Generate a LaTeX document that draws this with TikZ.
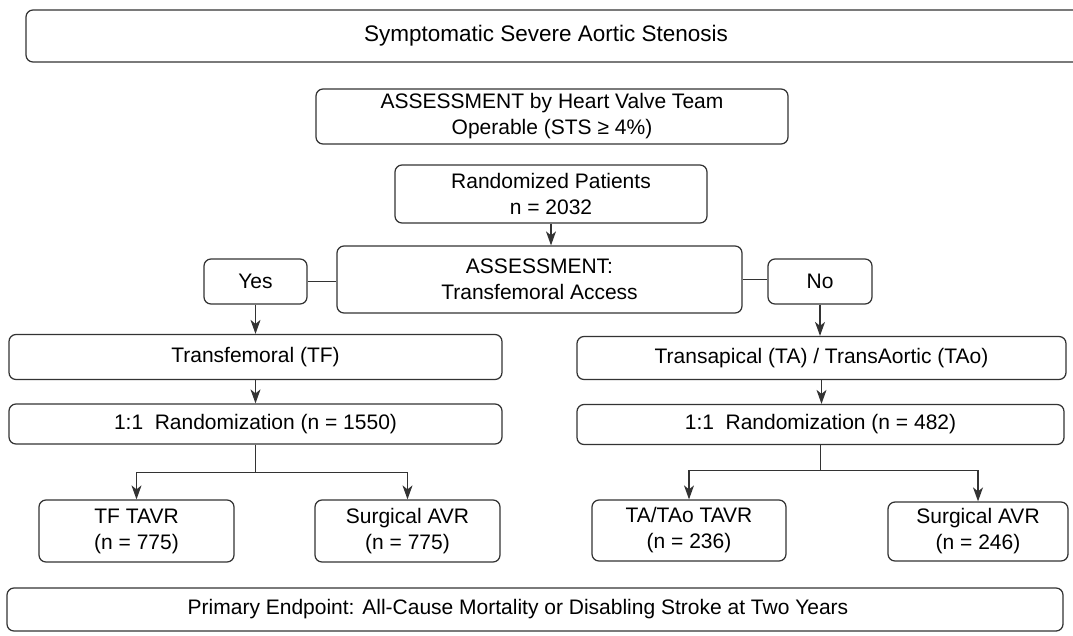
\documentclass[tikz,border=0pt]{standalone}
\usepackage{fontspec}
\setmainfont{Liberation Sans}
\usetikzlibrary{arrows.meta,calc}
\definecolor{linegray}{HTML}{333333}
\begin{document}
\begin{tikzpicture}[x=1pt,y=1pt,
  box/.style={draw=linegray, line width=1.25pt, rounded corners=7pt, inner sep=0pt,
              align=center, text=black, font=\fontsize{21}{26}\selectfont},
  caption/.style={inner sep=0pt, align=center, text=black, font=\fontsize{21}{26}\selectfont},
  link/.style={draw=linegray, line width=1.25pt},
  arr/.style={link, -{Stealth[length=14pt,width=10pt,inset=4pt]}}]
\useasboundingbox (0,0) rectangle (1073,-635);
\clip (0,0) rectangle (1073,-635);

% header (its frame runs past the right margin)
\node[box, minimum width=1064, minimum height=52] (top) at (558,-36) {};
\node[caption, font=\fontsize{22.5}{27}\selectfont] (toptext) at (546,-36) {Symptomatic Severe Aortic Stenosis};

% screening
\node[box, minimum width=472, minimum height=55] (team) at (552,-116.5) {ASSESSMENT by Heart Valve Team\\Operable (STS ≥ 4\%)};
\node[box, minimum width=312, minimum height=58] (rand) at (551,-194) {Randomized Patients\\n = 2032};
\node[box, minimum width=405, minimum height=67] (access) at (539.5,-279.5) {ASSESSMENT:\\Transfemoral Access};
\node[box, minimum width=103, minimum height=45] (yes) at (255.5,-281.5) {Yes};
\node[box, minimum width=104, minimum height=45] (no) at (820,-281.5) {No};

% access cohorts
\node[box, minimum width=493, minimum height=45] (tf) at (255.5,-357) {Transfemoral (TF)};
\node[box, minimum width=489, minimum height=43] (ta) at (821.5,-358) {Transapical (TA) / TransAortic (TAo)};
\node[box, minimum width=493, minimum height=40] (randL) at (255.5,-424) {1:1\hspace{0.55em}Randomization (n = 1550)};
\node[box, minimum width=487, minimum height=40] (randR) at (820.5,-424.5) {1:1\hspace{0.55em}Randomization (n = 482)};

% treatment arms
\node[box, minimum width=195, minimum height=62] (tftavr) at (136.5,-531) {TF TAVR\\(n = 775)};
\node[box, minimum width=185, minimum height=62] (surgL) at (407.5,-531) {Surgical AVR\\(n = 775)};
\node[box, minimum width=194, minimum height=61] (tatavr) at (689,-530.5) {TA/TAo TAVR\\(n = 236)};
\node[box, minimum width=180, minimum height=59] (surgR) at (978,-531.5) {Surgical AVR\\(n = 246)};

% endpoint
\node[box, minimum width=1056, minimum height=43] (endp) at (535,-609.5) {};
\node[caption] (endptext) at (518,-609.5) {Primary Endpoint: All-Cause Mortality or Disabling Stroke at Two Years};

% connectors
\draw[arr] (rand.south) -- (rand.south |- access.north);
\draw[link] (yes.east) -- (yes.east -| access.west);
\draw[link] (access.east) -- (access.east -| no.west);
\draw[arr] (yes.south) -- (yes.south |- tf.north);
\draw[arr] (no.south) -- (no.south |- ta.north);
\draw[arr] (tf.south) -- (tf.south |- randL.north);
\draw[arr] (ta.south) -- (ta.south |- randR.north);

\draw[arr] (randL.south) -- ++(0,-28) -| (tftavr.north);
\draw[arr] (randL.south) -- ++(0,-28) -| (surgL.north);
\draw[arr] (randR.south) -- ++(0,-25) -| (tatavr.north);
\draw[arr] (randR.south) -- ++(0,-25) -| (surgR.north);
\end{tikzpicture}
\end{document}
